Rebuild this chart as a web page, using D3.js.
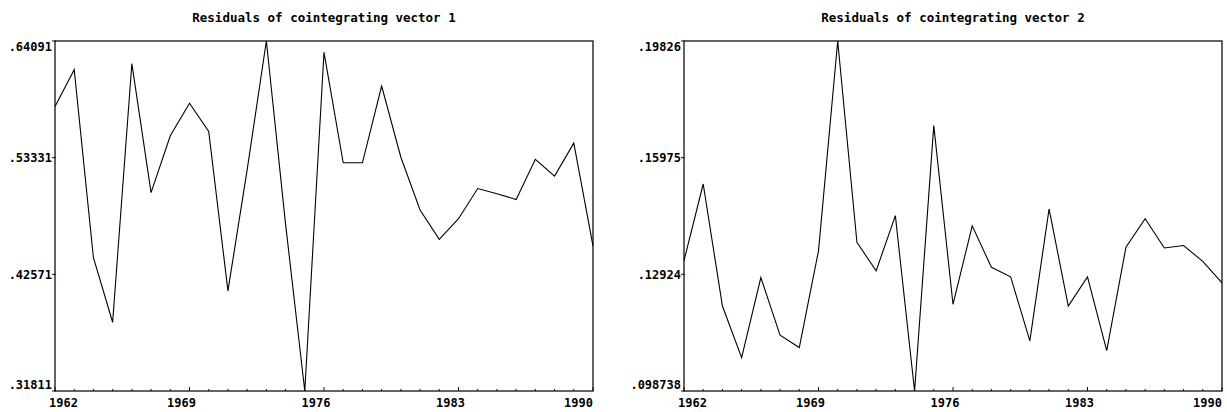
<!DOCTYPE html>
<html>
<head>
<meta charset="utf-8">
<script src="https://cdn.jsdelivr.net/npm/d3@7"></script>
<style>
body { margin: 0; background: #fff; }
svg text { font-family: "DejaVu Sans Mono", "Liberation Mono", monospace; font-weight: bold; font-size: 12px; fill: #000; }
svg text.title { font-size: 12.5px; }
</style>
</head>
<body>
<script>
//years on the x axis
var years = [1962, 1963, 1964, 1965, 1966, 1967, 1968, 1969, 1970, 1971,
             1972, 1973, 1974, 1975, 1976, 1977, 1978, 1979, 1980, 1981,
             1982, 1983, 1984, 1985, 1986, 1987, 1988, 1989, 1990];

//residuals of cointegrating vector 1
var resid1 = [0.5805, 0.6145, 0.4410, 0.3815, 0.6200, 0.5010, 0.5535, 0.5835, 0.5575, 0.4105,
              0.5220, 0.64091, 0.4720, 0.31811, 0.6305, 0.5286, 0.5286, 0.5994, 0.5337, 0.4850,
              0.4580, 0.4770, 0.5048, 0.5001, 0.4947, 0.5318, 0.5163, 0.5467, 0.4520];

//residuals of cointegrating vector 2
var resid2 = [0.1358, 0.1576, 0.1229, 0.1082, 0.1310, 0.1146, 0.1111, 0.1386, 0.19826, 0.1410,
              0.1329, 0.1486, 0.098738, 0.1742, 0.1234, 0.1457, 0.1339, 0.1312, 0.1130, 0.1505,
              0.1229, 0.1312, 0.1102, 0.1396, 0.1477, 0.1394, 0.1401, 0.1356, 0.1295];

var titles = ["Residuals of cointegrating vector 1", "Residuals of cointegrating vector 2"];
var yLabels1 = [".64091", ".53331", ".42571", ".31811"];
var yLabels2 = [".19826", ".15975", ".12924", ".098738"];
var yearLabels = [1962, 1969, 1976, 1983, 1990];

var width = 1227, height = 412;

var svg = d3.select("body")
    .append("svg")
    .attr("width", width)
    .attr("height", height);

drawPanel(resid1, yLabels1, titles[0], 55, 593);
drawPanel(resid2, yLabels2, titles[1], 684, 1222);

function drawPanel(values, labels, title, left, right){
    var top = 41, bottom = 391;

    var x = d3.scaleLinear()
        .domain(d3.extent(years))
        .range([left, right]);

    var ext = d3.extent(values);
    var y = d3.scaleLinear()
        .domain(ext)
        .range([bottom, top]);

    var g = svg.append("g");

    //title
    g.append("text")
        .attr("class", "title")
        .attr("x", (left + right) / 2)
        .attr("y", 22)
        .attr("text-anchor", "middle")
        .text(title);

    //frame
    g.append("rect")
        .attr("x", left)
        .attr("y", top)
        .attr("width", right - left)
        .attr("height", bottom - top)
        .style("fill", "none")
        .style("stroke", "#111")
        .style("stroke-width", 1.3);

    //y ticks at thirds of the range
    var step = (ext[1] - ext[0]) / (labels.length - 1);
    labels.forEach(function(lab, i){
        var v = ext[1] - i * step;
        var ty = y(v);
        g.append("line")
            .attr("x1", left - 3).attr("x2", left + 1)
            .attr("y1", ty).attr("y2", ty)
            .style("stroke", "#111");
        var shift = 0;
        if (i == 0) shift = 6;
        if (i == labels.length - 1) shift = -6;
        g.append("text")
            .attr("x", left - 3)
            .attr("y", ty + shift)
            .attr("dy", "0.36em")
            .attr("text-anchor", "end")
            .text(lab);
    });

    //year ticks, small every year, bigger at labelled years
    g.selectAll(".minor")
        .data(years)
        .enter()
        .append("line")
        .attr("x1", function(d){ return x(d); })
        .attr("x2", function(d){ return x(d); })
        .attr("y1", bottom)
        .attr("y2", function(d){ return yearLabels.indexOf(d) >= 0 ? bottom - 4 : bottom - 2; })
        .style("stroke", "#111");

    //year labels
    g.selectAll(".yearLab")
        .data(yearLabels)
        .enter()
        .append("text")
        .attr("x", function(d, i){
            if (i == 0) return x(d) - 6;
            if (i == yearLabels.length - 1) return x(d);
            return x(d) - 8;
        })
        .attr("y", 407)
        .attr("text-anchor", function(d, i){
            if (i == 0) return "start";
            if (i == yearLabels.length - 1) return "end";
            return "middle";
        })
        .text(function(d){ return d; });

    //the residual line
    var line = d3.line()
        .x(function(d, i){ return x(years[i]); })
        .y(function(d){ return y(d); });

    g.append("path")
        .datum(values)
        .attr("d", line)
        .style("fill", "none")
        .style("stroke", "#000")
        .style("stroke-width", 1.1);
}
</script>
</body>
</html>
